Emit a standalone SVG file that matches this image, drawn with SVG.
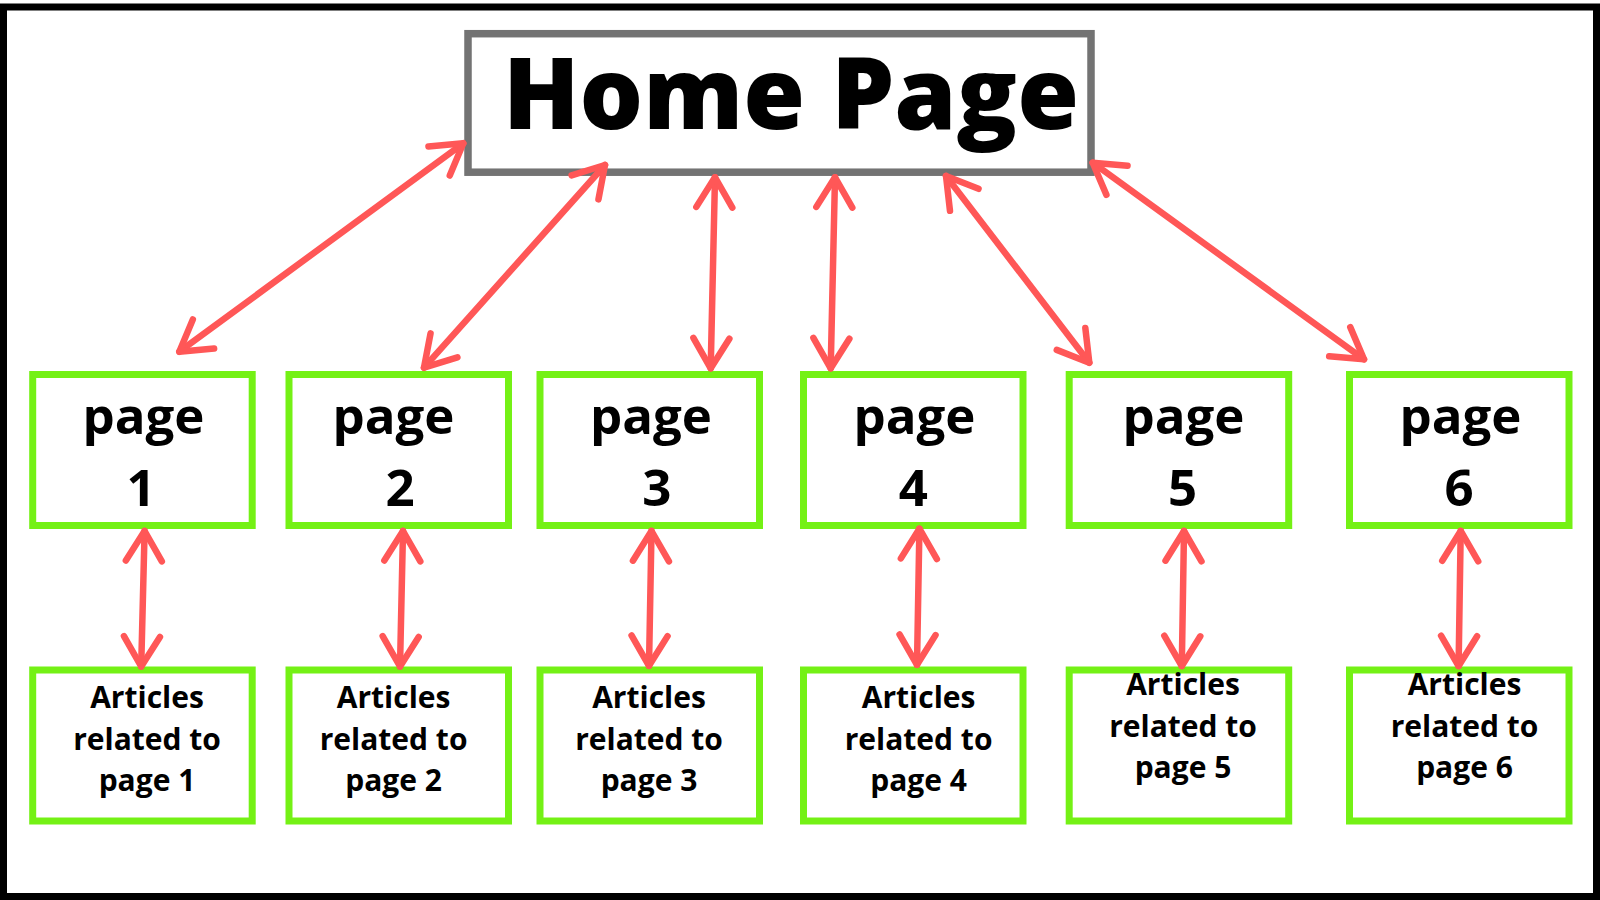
<svg xmlns="http://www.w3.org/2000/svg" width="1600" height="900" viewBox="0 0 1600 900">
  <style>
    .frame { fill: #ffffff; stroke: #000000; stroke-width: 7; }
    .home { fill: #ffffff; stroke: #737373; stroke-width: 7.5; }
    .box { fill: #ffffff; stroke: #74F115; stroke-width: 7; }
    .title { font-family: "Open Sans", "Liberation Sans", sans-serif; font-weight: 800; font-size: 100px; fill: #000000; }
    .pg { font-family: "Open Sans", "Liberation Sans", sans-serif; font-weight: 700; font-size: 51px; fill: #000000; text-anchor: middle; }
    .art { font-family: "Open Sans", "Liberation Sans", sans-serif; font-weight: 700; font-size: 30px; fill: #000000; text-anchor: middle; }
    .conn { stroke: #FF5757; stroke-width: 6.5; stroke-linecap: round; fill: none; marker-start: url(#ah); marker-end: url(#ah); }
  </style>
  <defs>
    <marker id="ah" markerUnits="userSpaceOnUse" viewBox="-40 -25 50 50" refX="0" refY="0" markerWidth="50" markerHeight="50" orient="auto-start-reverse" overflow="visible">
      <path d="M-30,-18 L0,0 L-30,18" fill="none" stroke="#FF5757" stroke-width="6.5" stroke-linecap="round" stroke-linejoin="round"/>
    </marker>
  </defs>

  <rect class="frame" x="3.5" y="7" width="1593" height="889.5"/>

  <g id="home">
    <rect class="home" x="468" y="33.7" width="623" height="138.5"/>
    <text class="title" x="503" y="129">Home Page</text>
  </g>

  <g id="page1">
    <rect class="box" x="32.7" y="374.5" width="219.5" height="151"/>
    <text class="pg" x="143.5" y="434">page</text>
    <text class="pg" x="141" y="506">1</text>
  </g>
  <g id="page2">
    <rect class="box" x="289" y="374.5" width="219.5" height="151"/>
    <text class="pg" x="393.4" y="434">page</text>
    <text class="pg" x="400" y="506">2</text>
  </g>
  <g id="page3">
    <rect class="box" x="540" y="374.5" width="219.5" height="151"/>
    <text class="pg" x="650.9" y="434">page</text>
    <text class="pg" x="656.8" y="506">3</text>
  </g>
  <g id="page4">
    <rect class="box" x="803.5" y="374.5" width="219.5" height="151"/>
    <text class="pg" x="914.4" y="434">page</text>
    <text class="pg" x="913.4" y="506">4</text>
  </g>
  <g id="page5">
    <rect class="box" x="1069.2" y="374.5" width="219.5" height="151"/>
    <text class="pg" x="1183.4" y="434">page</text>
    <text class="pg" x="1182.6" y="506">5</text>
  </g>
  <g id="page6">
    <rect class="box" x="1349.5" y="374.5" width="219.5" height="151"/>
    <text class="pg" x="1460.4" y="434">page</text>
    <text class="pg" x="1459" y="506">6</text>
  </g>

  <g id="articles1">
    <rect class="box" x="32.7" y="670" width="219.5" height="151"/>
    <text class="art" x="147" y="707.8">Articles</text>
    <text class="art" x="147" y="749.5">related to</text>
    <text class="art" x="147" y="790.5">page 1</text>
  </g>
  <g id="articles2">
    <rect class="box" x="289" y="670" width="219.5" height="151"/>
    <text class="art" x="393.6" y="707.8">Articles</text>
    <text class="art" x="393.6" y="749.5">related to</text>
    <text class="art" x="393.6" y="790.5">page 2</text>
  </g>
  <g id="articles3">
    <rect class="box" x="540" y="670" width="219.5" height="151"/>
    <text class="art" x="649" y="707.8">Articles</text>
    <text class="art" x="649" y="749.5">related to</text>
    <text class="art" x="649" y="790.5">page 3</text>
  </g>
  <g id="articles4">
    <rect class="box" x="803.5" y="670" width="219.5" height="151"/>
    <text class="art" x="918.6" y="707.8">Articles</text>
    <text class="art" x="918.6" y="749.5">related to</text>
    <text class="art" x="918.6" y="790.5">page 4</text>
  </g>
  <g id="articles5">
    <rect class="box" x="1069.2" y="670" width="219.5" height="151"/>
    <text class="art" x="1183" y="695">Articles</text>
    <text class="art" x="1183" y="736.7">related to</text>
    <text class="art" x="1183" y="778.3">page 5</text>
  </g>
  <g id="articles6">
    <rect class="box" x="1349.5" y="670" width="219.5" height="151"/>
    <text class="art" x="1464.5" y="695">Articles</text>
    <text class="art" x="1464.5" y="736.7">related to</text>
    <text class="art" x="1464.5" y="778.3">page 6</text>
  </g>

  <g id="connectors">
    <line class="conn" x1="463.3" y1="143.3" x2="179.3" y2="351.7"/>
    <line class="conn" x1="605" y1="165" x2="424" y2="367.7"/>
    <line class="conn" x1="715" y1="177.3" x2="710.7" y2="368.3"/>
    <line class="conn" x1="835" y1="177.3" x2="830.7" y2="368.3"/>
    <line class="conn" x1="946" y1="176" x2="1089.3" y2="362.7"/>
    <line class="conn" x1="1092.7" y1="162.7" x2="1364" y2="359.3"/>

    <line class="conn" x1="144.6" y1="531" x2="141.2" y2="666.5"/>
    <line class="conn" x1="403" y1="531" x2="400" y2="666.5"/>
    <line class="conn" x1="651.5" y1="531" x2="649" y2="665.8"/>
    <line class="conn" x1="919.4" y1="528.7" x2="917" y2="664.8"/>
    <line class="conn" x1="1184" y1="531" x2="1181.8" y2="666"/>
    <line class="conn" x1="1460.7" y1="531" x2="1458.6" y2="666"/>
  </g>
</svg>
